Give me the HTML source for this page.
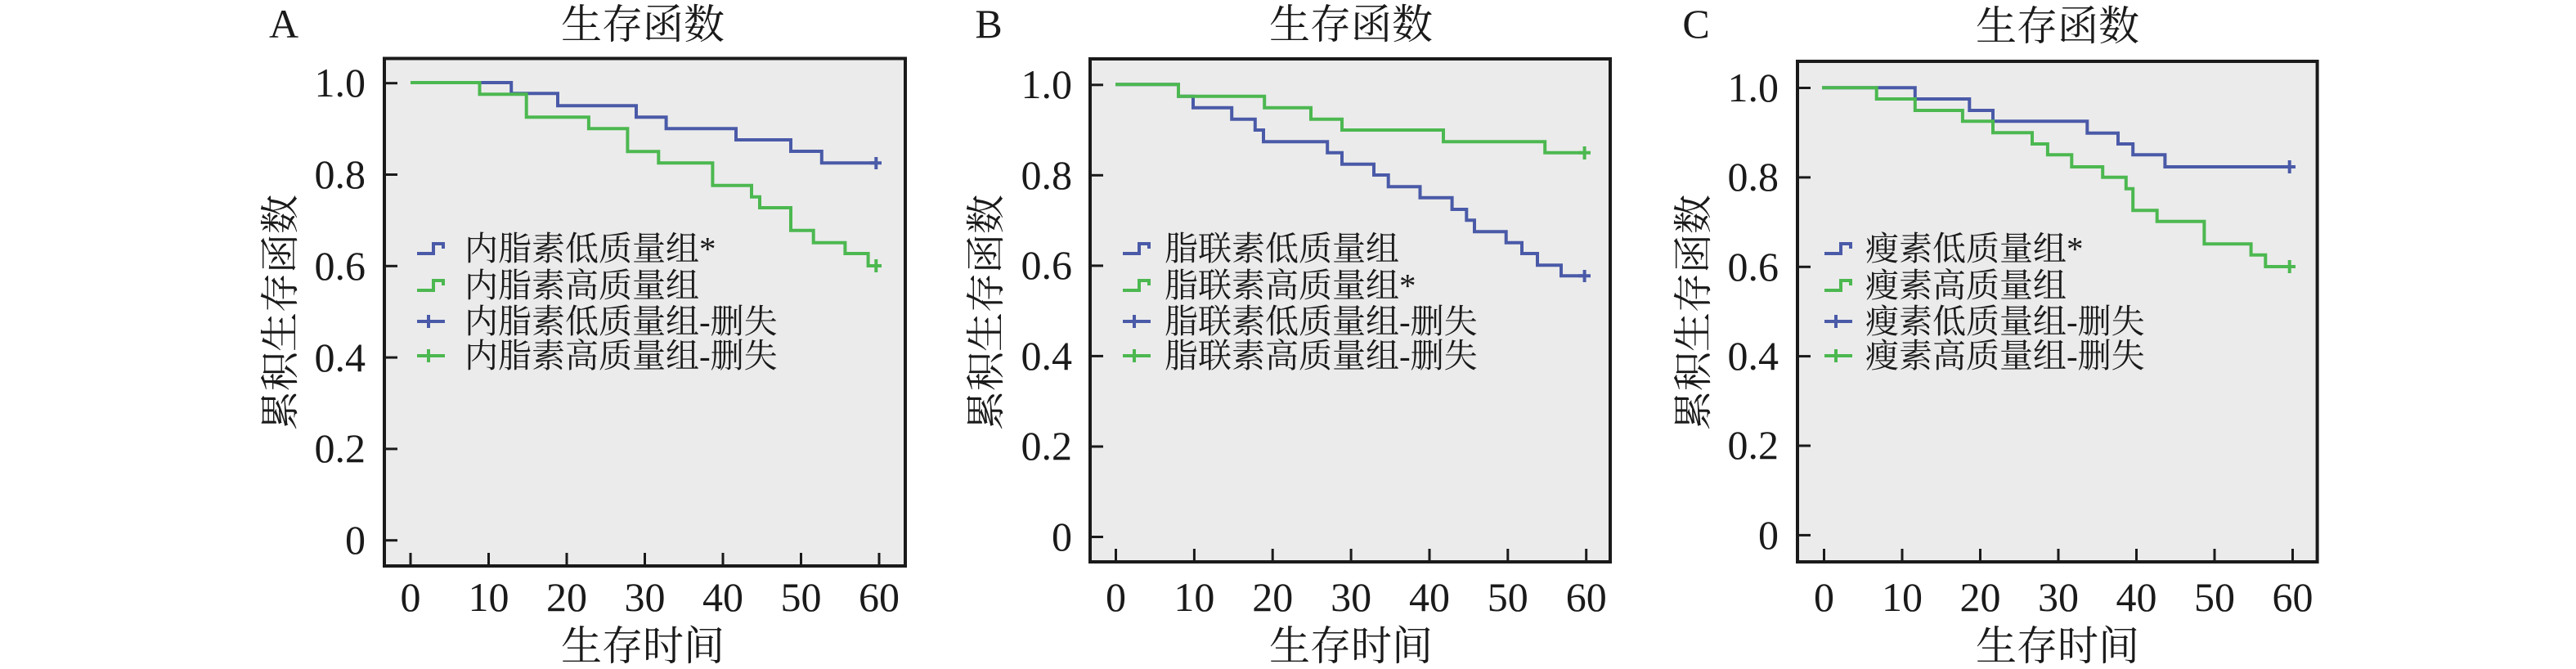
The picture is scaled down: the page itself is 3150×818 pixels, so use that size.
<!DOCTYPE html>
<html><head><meta charset="utf-8"><style>
html,body{margin:0;padding:0;background:#fff;}
svg{display:block;}
.t{font-family:"Liberation Serif","Noto Serif CJK SC","Noto Sans CJK SC",serif;fill:#1a1a1a;}
</style></head><body>
<svg width="3150" height="818" viewBox="0 0 3150 818" xmlns="http://www.w3.org/2000/svg">
<!-- Panel A -->
<g>
<rect x="470" y="71.5" width="637" height="620.5" fill="#ebebeb" stroke="#1a1a1a" stroke-width="4"/>
<g stroke="#1a1a1a" stroke-width="3">
<line x1="470" x2="486" y1="101.7" y2="101.7"/><line x1="470" x2="486" y1="213.5" y2="213.5"/><line x1="470" x2="486" y1="325.3" y2="325.3"/><line x1="470" x2="486" y1="437.1" y2="437.1"/><line x1="470" x2="486" y1="548.9" y2="548.9"/><line x1="470" x2="486" y1="660.7" y2="660.7"/>
<line y1="692" y2="676" x1="502" x2="502"/><line y1="692" y2="676" x1="597.5" x2="597.5"/><line y1="692" y2="676" x1="693" x2="693"/><line y1="692" y2="676" x1="788.5" x2="788.5"/><line y1="692" y2="676" x1="884" x2="884"/><line y1="692" y2="676" x1="979.5" x2="979.5"/><line y1="692" y2="676" x1="1075" x2="1075"/>
</g>
<g class="t" font-size="50" text-anchor="end">
<text x="447" y="118">1.0</text><text x="447" y="230">0.8</text><text x="447" y="342">0.6</text><text x="447" y="454">0.4</text><text x="447" y="565">0.2</text><text x="447" y="677">0</text>
</g>
<g class="t" font-size="50" text-anchor="middle">
<text x="502" y="747">0</text><text x="597.5" y="747">10</text><text x="693" y="747">20</text><text x="788.5" y="747">30</text><text x="884" y="747">40</text><text x="979.5" y="747">50</text><text x="1075" y="747">60</text>
</g>
<text class="t" x="347" y="46" font-size="50" text-anchor="middle">A</text>
<text class="t" x="786" y="47" font-size="50" text-anchor="middle">生存函数</text>
<text class="t" x="786" y="807" font-size="50" text-anchor="middle">生存时间</text>
<text class="t" transform="translate(359,382) rotate(-90)" font-size="48" text-anchor="middle">累积生存函数</text>
<path d="M502,101 H625.2 V114.3 H682 V129.3 H778 V143.3 H814.6 V157.3 H900 V171 H967 V185 H1004.8 V199.3 H1071.3" fill="none" stroke="#4a5aa8" stroke-width="4"/>
<path d="M502,101 H586.5 V115.3 H643.7 V143.3 H719.9 V157.3 H767.4 V185.3 H805.3 V199.3 H871.4 V226.7 H919 V240.7 H929 V254 H967 V281.7 H994.7 V296.7 H1033.4 V310 H1061.6 V325 H1071.3" fill="none" stroke="#4cb850" stroke-width="4"/>
<path d="M1071.3,192 V207 M1064,199.3 H1078" stroke="#4a5aa8" stroke-width="4"/>
<path d="M1071.3,317 V333 M1064,325 H1078" stroke="#4cb850" stroke-width="4"/>
<g stroke-width="4" fill="none">
<path d="M510,310 H530 V298 H542 V304" stroke="#4a5aa8"/>
<path d="M510,355 H530 V343 H542 V349" stroke="#4cb850"/>
<path d="M510,393 H544 M524,385 V401" stroke="#4a5aa8"/>
<path d="M510,435 H544 M524,427 V443" stroke="#4cb850"/>
</g>
<g class="t" font-size="41">
<text x="568" y="318">内脂素低质量组*</text><text x="568" y="363">内脂素高质量组</text><text x="568" y="407">内脂素低质量组-删失</text><text x="568" y="449">内脂素高质量组-删失</text>
</g>
</g>
<!-- Panel B -->
<g>
<rect x="1333" y="72" width="636" height="615" fill="#ebebeb" stroke="#1a1a1a" stroke-width="4"/>
<g stroke="#1a1a1a" stroke-width="3">
<line x1="1333" x2="1349" y1="103.8" y2="103.8"/><line x1="1333" x2="1349" y1="214.3" y2="214.3"/><line x1="1333" x2="1349" y1="324.9" y2="324.9"/><line x1="1333" x2="1349" y1="435.4" y2="435.4"/><line x1="1333" x2="1349" y1="546" y2="546"/><line x1="1333" x2="1349" y1="656.5" y2="656.5"/>
<line y1="687" y2="671" x1="1364.5" x2="1364.5"/><line y1="687" y2="671" x1="1460.4" x2="1460.4"/><line y1="687" y2="671" x1="1556.2" x2="1556.2"/><line y1="687" y2="671" x1="1652.1" x2="1652.1"/><line y1="687" y2="671" x1="1748" x2="1748"/><line y1="687" y2="671" x1="1843.8" x2="1843.8"/><line y1="687" y2="671" x1="1939.7" x2="1939.7"/>
</g>
<g class="t" font-size="50" text-anchor="end">
<text x="1311" y="120">1.0</text><text x="1311" y="231">0.8</text><text x="1311" y="341">0.6</text><text x="1311" y="452">0.4</text><text x="1311" y="562">0.2</text><text x="1311" y="673">0</text>
</g>
<g class="t" font-size="50" text-anchor="middle">
<text x="1364.5" y="747">0</text><text x="1460.4" y="747">10</text><text x="1556.2" y="747">20</text><text x="1652.1" y="747">30</text><text x="1748" y="747">40</text><text x="1843.8" y="747">50</text><text x="1939.7" y="747">60</text>
</g>
<text class="t" x="1209" y="46" font-size="50" text-anchor="middle">B</text>
<text class="t" x="1652" y="47" font-size="50" text-anchor="middle">生存函数</text>
<text class="t" x="1652" y="807" font-size="50" text-anchor="middle">生存时间</text>
<text class="t" transform="translate(1222,382) rotate(-90)" font-size="48" text-anchor="middle">累积生存函数</text>
<path d="M1364,103.3 H1441 V117.7 H1459 V131.7 H1506.2 V145.7 H1534.8 V159 H1545 V173.3 H1623.2 V186.7 H1641 V200.7 H1680 V214 H1697.7 V228.3 H1736.5 V241.7 H1775.6 V256 H1793.3 V269.3 H1803 V283.3 H1841.7 V296.7 H1861 V310 H1880 V324.3 H1909 V337.3 H1937.6" fill="none" stroke="#4a5aa8" stroke-width="4"/>
<path d="M1364,103.3 H1441 V117.7 H1546.2 V131.7 H1603 V145.7 H1641 V159 H1765 V173.3 H1889.2 V186.7 H1937.6" fill="none" stroke="#4cb850" stroke-width="4"/>
<path d="M1937.6,330 V345 M1930,337.3 H1945" stroke="#4a5aa8" stroke-width="4"/>
<path d="M1937.6,179 V195 M1930,186.7 H1945" stroke="#4cb850" stroke-width="4"/>
<g stroke-width="4" fill="none">
<path d="M1373,310 H1393 V298 H1405 V304" stroke="#4a5aa8"/>
<path d="M1373,355 H1393 V343 H1405 V349" stroke="#4cb850"/>
<path d="M1373,393 H1407 M1387,385 V401" stroke="#4a5aa8"/>
<path d="M1373,435 H1407 M1387,427 V443" stroke="#4cb850"/>
</g>
<g class="t" font-size="41">
<text x="1424" y="318">脂联素低质量组</text><text x="1424" y="363">脂联素高质量组*</text><text x="1424" y="407">脂联素低质量组-删失</text><text x="1424" y="449">脂联素高质量组-删失</text>
</g>
</g>
<!-- Panel C -->
<g>
<rect x="2198" y="75" width="635.6" height="612" fill="#ebebeb" stroke="#1a1a1a" stroke-width="4"/>
<g stroke="#1a1a1a" stroke-width="3">
<line x1="2198" x2="2214" y1="107.5" y2="107.5"/><line x1="2198" x2="2214" y1="216.9" y2="216.9"/><line x1="2198" x2="2214" y1="326.3" y2="326.3"/><line x1="2198" x2="2214" y1="435.6" y2="435.6"/><line x1="2198" x2="2214" y1="545" y2="545"/><line x1="2198" x2="2214" y1="654.4" y2="654.4"/>
<line y1="687" y2="671" x1="2230.5" x2="2230.5"/><line y1="687" y2="671" x1="2326" x2="2326"/><line y1="687" y2="671" x1="2421.5" x2="2421.5"/><line y1="687" y2="671" x1="2517" x2="2517"/><line y1="687" y2="671" x1="2612.5" x2="2612.5"/><line y1="687" y2="671" x1="2708" x2="2708"/><line y1="687" y2="671" x1="2803.5" x2="2803.5"/>
</g>
<g class="t" font-size="50" text-anchor="end">
<text x="2175" y="124">1.0</text><text x="2175" y="233">0.8</text><text x="2175" y="343">0.6</text><text x="2175" y="452">0.4</text><text x="2175" y="561">0.2</text><text x="2175" y="671">0</text>
</g>
<g class="t" font-size="50" text-anchor="middle">
<text x="2230.5" y="747">0</text><text x="2326" y="747">10</text><text x="2421.5" y="747">20</text><text x="2517" y="747">30</text><text x="2612.5" y="747">40</text><text x="2708" y="747">50</text><text x="2803.5" y="747">60</text>
</g>
<text class="t" x="2074" y="46" font-size="50" text-anchor="middle">C</text>
<text class="t" x="2516" y="49" font-size="50" text-anchor="middle">生存函数</text>
<text class="t" x="2516" y="807" font-size="50" text-anchor="middle">生存时间</text>
<text class="t" transform="translate(2087,382) rotate(-90)" font-size="48" text-anchor="middle">累积生存函数</text>
<path d="M2228,107.3 H2341.8 V121 H2408.3 V135 H2437 V148.3 H2552.3 V162.7 H2590 V176 H2608.2 V189.3 H2647.4 V204 H2799.7" fill="none" stroke="#4a5aa8" stroke-width="4"/>
<path d="M2228,107.3 H2294.7 V121 H2341.8 V135 H2399.9 V148.3 H2437 V162.3 H2485 V176 H2503.9 V189.3 H2533.3 V204 H2571.2 V216.7 H2599.8 V230.7 H2608.2 V257.3 H2637.7 V270.7 H2695.4 V298.3 H2752.6 V311.7 H2770.3 V326 H2799.7" fill="none" stroke="#4cb850" stroke-width="4"/>
<path d="M2799.7,196 V212 M2792,204 H2807" stroke="#4a5aa8" stroke-width="4"/>
<path d="M2799.7,318 V334 M2792,326 H2807" stroke="#4cb850" stroke-width="4"/>
<g stroke-width="4" fill="none">
<path d="M2231,310 H2251 V298 H2263 V304" stroke="#4a5aa8"/>
<path d="M2231,355 H2251 V343 H2263 V349" stroke="#4cb850"/>
<path d="M2231,393 H2265 M2245,385 V401" stroke="#4a5aa8"/>
<path d="M2231,435 H2265 M2245,427 V443" stroke="#4cb850"/>
</g>
<g class="t" font-size="41">
<text x="2281" y="318">瘦素低质量组*</text><text x="2281" y="363">瘦素高质量组</text><text x="2281" y="407">瘦素低质量组-删失</text><text x="2281" y="449">瘦素高质量组-删失</text>
</g>
</g>
</svg>
</body></html>
